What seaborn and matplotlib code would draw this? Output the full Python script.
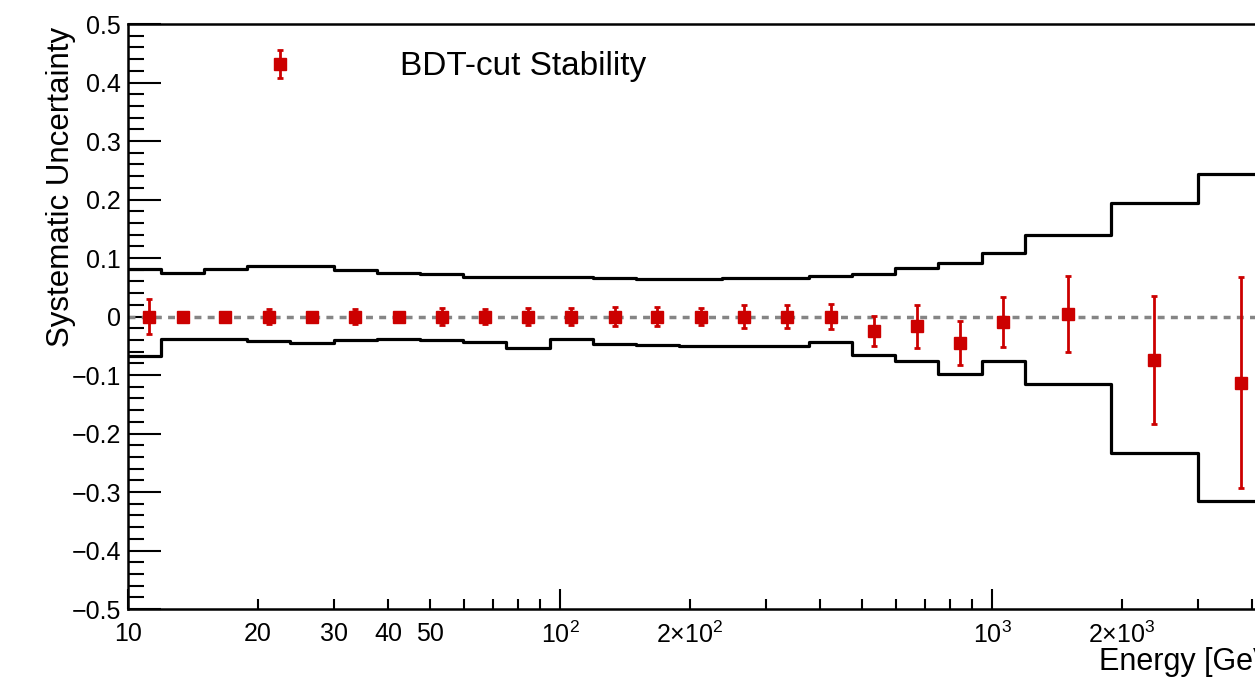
import numpy as np
import matplotlib
matplotlib.use('Agg')
import matplotlib.pyplot as plt
import matplotlib.ticker as mticker
from matplotlib.legend_handler import HandlerErrorbar
import seaborn as sns

# --- data ---
energy = [11.2, 13.4, 16.8, 21.2, 26.7, 33.6, 42.3, 53.3, 67.0, 84.3, 106, 134,
          168, 212, 267, 336, 423, 532, 670, 843, 1062, 1500, 2377, 3767]
stability = [0, 0, 0, 0, 0, 0, 0, 0, 0, 0, 0, 0,
             0, 0, 0, 0, 0, -0.025, -0.017, -0.045, -0.009, 0.005, -0.074, -0.113]
stability_err = [0.030, 0.004, 0.004, 0.013, 0.004, 0.013, 0.004, 0.014, 0.013, 0.014, 0.014, 0.016,
                 0.017, 0.015, 0.020, 0.020, 0.022, 0.026, 0.037, 0.038, 0.043, 0.065, 0.109, 0.180]

bin_edges = [9.46, 11.91, 15.0, 18.88, 23.77, 29.92, 37.67, 47.42, 59.70, 75.16, 94.62, 119.1,
             150.0, 188.8, 237.7, 299.2, 376.7, 474.2, 597.0, 751.6, 946.2, 1191, 1888, 2992, 4742]
band_upper = [0.082, 0.075, 0.081, 0.086, 0.086, 0.079, 0.075, 0.072, 0.068, 0.068, 0.067, 0.065,
              0.064, 0.064, 0.066, 0.066, 0.070, 0.072, 0.083, 0.092, 0.109, 0.140, 0.194, 0.243]
band_lower = [-0.068, -0.038, -0.038, -0.042, -0.046, -0.040, -0.038, -0.040, -0.044, -0.054, -0.038, -0.047,
              -0.048, -0.050, -0.050, -0.050, -0.044, -0.066, -0.076, -0.099, -0.076, -0.115, -0.233, -0.316]

ytick_values = [-0.5, -0.4, -0.3, -0.2, -0.1, 0, 0.1, 0.2, 0.3, 0.4, 0.5]
ytick_labels = ['\u22120.5', '\u22120.4', '\u22120.3', '\u22120.2', '\u22120.1', '0',
                '0.1', '0.2', '0.3', '0.4', '0.5']
xtick_major = [10, 100, 1000]
xtick_major_labels = ['10', r'$10^{2}$', r'$10^{3}$']
xtick_minor_labelled = [20, 30, 40, 50, 200, 2000]
xtick_minor_labels = ['20', '30', '40', '50', r'$2{\times}10^{2}$', r'$2{\times}10^{3}$']

red = '#cc0000'

sns.set_style('white')
plt.rcParams['font.family'] = ['Liberation Sans', 'DejaVu Sans']
plt.rcParams['mathtext.fontset'] = 'custom'
plt.rcParams['mathtext.rm'] = 'Liberation Sans'
plt.rcParams['mathtext.it'] = 'Liberation Sans:italic'
plt.rcParams['mathtext.bf'] = 'Liberation Sans:bold'
for key in ['text.color', 'axes.labelcolor', 'xtick.color', 'ytick.color']:
    plt.rcParams[key] = 'black'

fig = plt.figure(figsize=(12.55, 6.8), dpi=100)
# axes run past the right edge, like the cropped original
ax = fig.add_axes([0.102, 0.1044, 0.9638, 0.8603])
ax.set_xscale('log')
ax.set_xlim(10, 10 ** 3.8)
ax.set_ylim(-0.5, 0.5)

# systematic band as step histograms
sns.lineplot(x=bin_edges, y=band_upper + [band_upper[-1]], drawstyle='steps-post',
             estimator=None, sort=False, color='black', linewidth=2.3, ax=ax, zorder=3)
sns.lineplot(x=bin_edges, y=band_lower + [band_lower[-1]], drawstyle='steps-post',
             estimator=None, sort=False, color='black', linewidth=2.3, ax=ax, zorder=3)

ax.axhline(0, color='#858585', linewidth=2.5, linestyle=(0, (2.0, 1.8)), zorder=2)

eb = ax.errorbar(energy, stability, yerr=stability_err, fmt='s', color=red, ms=8,
                 elinewidth=2.0, capsize=2.5, capthick=2.0, zorder=4,
                 label='BDT-cut Stability')

# axes styling (ROOT-like)
for side in ['left', 'bottom', 'top']:
    ax.spines[side].set_linewidth(1.8)
    ax.spines[side].set_color('black')
ax.spines['right'].set_visible(False)

ax.yaxis.set_major_locator(mticker.FixedLocator(ytick_values))
ax.yaxis.set_major_formatter(mticker.FixedFormatter(ytick_labels))
ax.yaxis.set_minor_locator(mticker.MultipleLocator(0.02))
ax.tick_params(axis='y', which='major', direction='in', length=24, width=1.5, labelsize=18, pad=5)
ax.tick_params(axis='y', which='minor', direction='in', length=11.5, width=1.5)

ax.xaxis.set_major_locator(mticker.FixedLocator(xtick_major))
ax.xaxis.set_major_formatter(mticker.FixedFormatter(xtick_major_labels))
ax.xaxis.set_minor_locator(mticker.LogLocator(base=10, subs=np.arange(2, 10)))
minor_map = dict(zip(xtick_minor_labelled, xtick_minor_labels))
ax.xaxis.set_minor_formatter(mticker.FuncFormatter(
    lambda v, p: next((lab for val, lab in minor_map.items() if abs(v - val) < 1e-6 * val), '')))
ax.tick_params(axis='x', which='major', direction='in', length=14.5, width=1.5, labelsize=18, pad=9)
ax.tick_params(axis='x', which='minor', direction='in', length=7.5, width=1.5, labelsize=18, pad=9)
ax.tick_params(which='both', bottom=True, left=True, top=False, right=False)

fig.text(61 / 1255, 1 - 27 / 680, 'Systematic Uncertainty', rotation=90,
         ha='center', va='top', fontsize=22.5)
fig.text(1099 / 1255, 1 - 670 / 680, 'Energy [GeV]', ha='left', va='baseline', fontsize=22)

leg = ax.legend(handles=[eb], labels=['BDT-cut Stability'], loc='center left',
                bbox_to_anchor=(250 / 1255, 1 - 67 / 680), bbox_transform=fig.transFigure,
                frameon=False, fontsize=24, handlelength=1.8, handletextpad=2.7,
                borderpad=0, borderaxespad=0,
                handler_map={type(eb): HandlerErrorbar(xerr_size=0.42)})

fig.savefig('out.png', dpi=100)
